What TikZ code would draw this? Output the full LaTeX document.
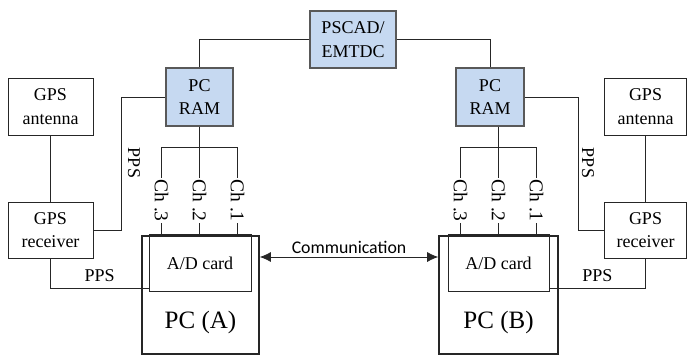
\documentclass[tikz,border=0pt]{standalone}
\usepackage{fontspec}
\setmainfont{Liberation Serif}
\newfontfamily\commfont{Carlito}
\usepackage{tikz}
\usetikzlibrary{arrows.meta}
\definecolor{ramblue}{HTML}{C6D9F1}

\begin{document}
\begin{tikzpicture}[x=1pt, y=-1pt, line width=0.8pt, color=black!85,
        >={Latex[length=11pt,width=10pt]},
        main/.style = {draw, rectangle, align=center, inner sep=0pt, text=black,
            font=\fontsize{18}{23.5}\selectfont},
        ram/.style = {main, fill=ramblue, draw=black!65, line width=1.1pt},
        pc/.style = {draw, line width=1.6pt, minimum height=118pt},
        card/.style = {main, minimum height=57pt},
        chan/.style = {fill=white, rotate=-90, inner sep=1pt, text=black,
            font=\fontsize{19.5}{20}\selectfont},
        pps/.style = {rotate=-90, text=black, font=\fontsize{18}{20}\selectfont}]
            \useasboundingbox (0,0) rectangle (687,356);

            \node[ram, minimum width=86pt, minimum height=57pt] (pscad) at (353,39.5) {PSCAD/\\EMTDC};
            \node[ram, minimum width=67pt, minimum height=58pt] (ramA) at (199.5,97) {PC\\RAM};
            \node[ram, minimum width=68pt, minimum height=58pt] (ramB) at (490,97) {PC\\RAM};

            \node[main, minimum width=85pt, minimum height=57pt] (antA) at (50.5,106.5) {GPS\\antenna};
            \node[main, minimum width=85pt, minimum height=56pt] (recA) at (50.5,230) {GPS\\receiver};
            \node[main, minimum width=82pt, minimum height=57pt] (antB) at (645.5,106.5) {GPS\\antenna};
            \node[main, minimum width=82pt, minimum height=56pt] (recB) at (645.5,230) {GPS\\receiver};

            \node[pc, minimum width=117pt] (pcA) at (200.5,295) {};
            \node[card, minimum width=102pt] (cardA) at (200,263) {A/D card};
            \node[text=black, font=\fontsize{25}{30}\selectfont] (pcAname) at (200.5,322) {PC (A)};
            \node[pc, minimum width=119pt] (pcB) at (498.5,295) {};
            \node[card, minimum width=101pt] (cardB) at (498.5,263) {A/D card};
            \node[text=black, font=\fontsize{25}{30}\selectfont] (pcBname) at (498.5,322) {PC (B)};

            % simulator to both PCs
            \draw (pscad.west) -| (ramA.north);
            \draw (pscad.east) -| (ramB.north);

            % GPS time signals
            \path (antA) edge (recA);
            \path (antB) edge (recB);
            \draw (recA.east) -- ++(28,0) |- (ramA.west);
            \draw (recB.west) -- ++(-26,0) |- (ramB.east);
            \node[pps] (ppsA) at (134,163) {PPS};
            \node[pps] (ppsB) at (588,163) {PPS};
            \draw (recA.south) |- ([yshift=4pt]cardA.south west)
                node[pos=0.75, above=2pt, text=black, font=\fontsize{18}{20}\selectfont] (ppsAc) {PPS};
            \draw (recB.south) |- ([yshift=4pt]cardB.south east)
                node[pos=0.75, above=2pt, text=black, font=\fontsize{18}{20}\selectfont] (ppsBc) {PPS};

            % analog channels
            \draw (ramA.south) -- ++(0,21) coordinate (busA);
            \draw (ramB.south -| cardB.north) -- ++(0,21) coordinate (busB);
            \foreach \dx/\ch in {-38/3, 0/2, 38/1} {
                \draw (busA) -- ++(\dx,0) coordinate (chA\ch) -- (chA\ch |- cardA.north);
                \node[chan] (lblA\ch) at ([yshift=-53pt]chA\ch) {Ch .\ch};
                \draw (busB) -- ++(\dx,0) coordinate (chB\ch) -- (chB\ch |- cardB.north);
                \node[chan] (lblB\ch) at ([yshift=-53pt]chB\ch) {Ch .\ch};
            }

            \draw[<->] ([yshift=38pt]pcA.east) -- node[above, text=black,
                font=\commfont\fontsize{17.8}{20}\selectfont] (comm) {Communication} ([yshift=38pt]pcB.west);
        \end{tikzpicture}
\end{document}
